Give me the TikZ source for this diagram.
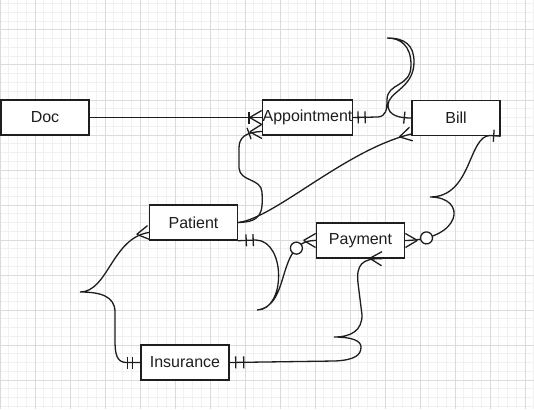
\documentclass[tikz,border=0pt]{standalone}
\usepackage{fontspec}
\usepackage{tikz}
\usetikzlibrary{decorations.markings}
\newfontfamily\erfont{Liberation Sans}
\definecolor{gridminorcolor}{gray}{0.945}
\definecolor{gridmajorcolor}{gray}{0.86}
\definecolor{inkcolor}{HTML}{1E1E1E}

\tikzset{
    entity/.style={draw=inkcolor, fill=white, line width=1.4pt, minimum width=88pt,
        minimum height=35pt, inner sep=0pt, text=inkcolor,
        font={\erfont\fontsize{16}{19}\selectfont}},
    rel/.style={draw=inkcolor, line width=1.3pt},
    barstart/.style={postaction={decorate, decoration={markings,
        mark=at position #1 with {\draw (0,-6pt) -- (0,6pt);}}}},
    barend/.style={postaction={decorate, decoration={markings,
        mark=at position -#1 with {\draw (0,-6pt) -- (0,6pt);}}}},
    crowend/.style={postaction={decorate, decoration={markings,
        mark=at position 0.999 with {\draw (-12pt,0) -- (0,7pt) (-12pt,0) -- (0,-7pt);}}}},
    ringend/.style={postaction={decorate, decoration={markings,
        mark=at position -21.5pt with {\draw[fill=white] (0,0) circle[radius=6pt];}}}}
}

\begin{document}
\begin{tikzpicture}[x=1pt, y=-1pt]
    \useasboundingbox (0,0) rectangle (534,409);
    \fill[white] (0,0) rectangle (534,409);

    % grid
    \foreach \k in {0,...,61}
        \draw[gridminorcolor, line width=1pt] (\k*8.75,0) -- (\k*8.75,409);
    \foreach \k in {1,...,47}
        \draw[gridminorcolor, line width=1pt] (0,\k*8.75-5) -- (534,\k*8.75-5);
    \foreach \k in {0,...,15}
        \draw[gridmajorcolor, line width=1pt] (\k*35,0) -- (\k*35,409);
    \foreach \k in {1,...,12}
        \draw[gridmajorcolor, line width=1pt] (0,\k*35-5) -- (534,\k*35-5);

    \node[entity] (doc) at (45,117.5) {Doc};
    \node[entity] (appt) at (307.5,117.5) {Appointment};
    \node[entity] (bill) at (456,118) {Bill};
    \node[entity] (patient) at (193.5,222.5) {Patient};
    \node[entity] (payment) at (360.5,240.5) {Payment};
    \node[entity] (insurance) at (185,362.5) {Insurance};

    \draw[rel, barend=13pt, crowend] (doc.east) -- (appt.west);

    \draw[rel, barend=13pt, crowend] (patient.east)
        .. controls (262,222) and (263,212) .. (262,192)
        .. controls (261,178) and (240,182) .. (239,168) -- (239,148)
        .. controls (239,138) and (245,132) .. ([yshift=-14pt]appt.west);

    \draw[rel, crowend] (patient.east)
        .. controls (275,218) and (345,150) .. ([yshift=-16pt]bill.west);

    \draw[rel, barstart=5pt, barstart=12pt, barend=7pt] (appt.east) -- (378,117)
        .. controls (386,116) and (387,110) .. (387,100)
        .. controls (387,82) and (411,88) .. (411,65)
        .. controls (411,45) and (400,38) .. (387,38)
        .. controls (405,38) and (414,45) .. (414,62)
        .. controls (414,88) and (388,92) .. (388,105)
        .. controls (388,116) and (400,118) .. (bill.west);

    \draw[rel, barstart=7pt, crowend, ringend] (bill.south east) -- (490,135.5)
        .. controls (468,136) and (472,197) .. (430,197)
        .. controls (468,197) and (462,240) .. (payment.east);

    \draw[rel, barstart=8pt, barstart=15pt, crowend, ringend] (patient.south east) -- (256,240)
        .. controls (286,241) and (286,310) .. (257,310)
        .. controls (292,306) and (275,240) .. (payment.west);

    \draw[rel, barstart=8pt, barstart=13pt, crowend] (insurance.west) -- (126,362.5)
        .. controls (117,362) and (115,355) .. (115,340) -- (115,312)
        .. controls (115,296) and (100,292) .. (80,292)
        .. controls (108,292) and (112,238) .. ([yshift=-10pt]patient.west);

    \draw[rel, barstart=6pt, barstart=14pt, crowend] (insurance.east) -- (335,361)
        .. controls (355,360) and (361,355) .. (361,347)
        .. controls (361,340) and (350,337) .. (334,337)
        .. controls (352,337) and (362,330) .. (362,315) -- (358,283)
        .. controls (356,265) and (362,258) .. ([xshift=21.5pt]payment.south);
\end{tikzpicture}
\end{document}
